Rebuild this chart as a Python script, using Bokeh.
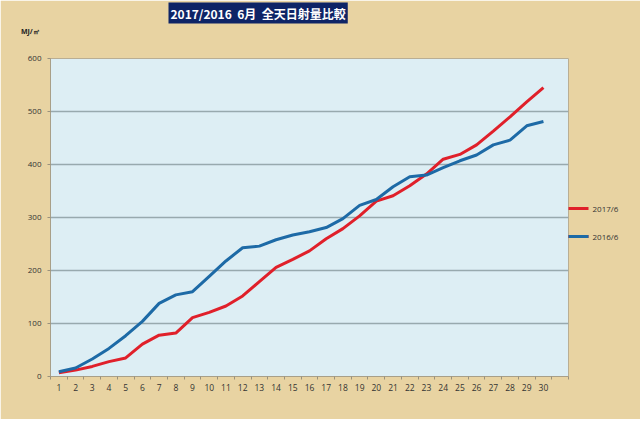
from bokeh.plotting import figure
from bokeh.models import FixedTicker, LinearAxis, Range1d, Title
from bokeh.embed import file_html
from bokeh.resources import INLINE

days = list(range(1, 31))
day_labels = [str(d) for d in days]
y_ticks = [0, 100, 200, 300, 400, 500, 600]
series_2017 = [7, 12, 19, 28, 35, 61, 78, 82, 111, 121, 133, 152, 179, 206, 221, 237, 260,
               279, 303, 331, 341, 360, 382, 410, 419, 437, 463, 490, 518, 545]
series_2016 = [9, 16, 33, 53, 77, 104, 138, 154, 160, 189, 218, 243, 246, 258, 267, 273, 281,
               298, 323, 334, 358, 377, 380, 394, 407, 418, 437, 446, 473, 481]
name_2017 = "2017/6"
name_2016 = "2016/6"
title_text = "2017/2016  6月  全天日射量比較"
unit_text = "MJ/㎡"

C17 = "#e0202a"
C16 = "#1d6aa6"
BG = "#e8d3a2"
p = figure(frame_width=518, frame_height=318, output_backend="svg", toolbar_location=None,
           x_range=Range1d(0.5, 31.5), y_range=Range1d(0, 600),
           min_border_left=50, min_border_right=72, min_border_top=0, min_border_bottom=43)
p.border_fill_color = BG
p.background_fill_color = "#ddeef4"
p.outline_line_color = "#b9ae94"

p.xgrid.grid_line_color = None
p.ygrid.grid_line_color = "#98a9ae"
p.ygrid.grid_line_width = 1.5

xax = p.xaxis[0]
yax = p.yaxis[0]
xax.ticker = FixedTicker(ticks=days, minor_ticks=[d + 0.5 for d in range(0, 32)])
xax.major_label_overrides = {d: l for d, l in zip(days, day_labels)}
xax.major_tick_line_color = None
xax.major_tick_out = 3
xax.major_tick_in = 0
xax.minor_tick_out = 3
xax.minor_tick_in = 0
xax.minor_tick_line_color = "#9a917c"
xax.axis_line_color = "#a89f88"
xax.major_label_text_font_size = "8.5px"
xax.major_label_text_color = "#333333"
xax.major_label_text_font = "Open Sans"
xax.major_label_standoff = 4

yax.ticker = FixedTicker(ticks=y_ticks)
yax.minor_tick_line_color = None
yax.major_tick_out = 3
yax.major_tick_in = 0
yax.major_tick_line_color = "#9a917c"
yax.axis_line_color = "#a89f88"
yax.major_label_text_font_size = "8px"
yax.major_label_text_color = "#333333"
yax.major_label_text_font = "Open Sans"
yax.major_label_standoff = 6

r17 = p.line(days, series_2017, line_color=C17, line_width=3)
r16 = p.line(days, series_2016, line_color=C16, line_width=3)

# legend on the right, built as an axis: key lines are the tick marks, names the tick labels
p.extra_y_ranges = {"legend": Range1d(0, 318)}
pos17, pos16 = 168, 140
leg_axis = LinearAxis(y_range_name="legend",
                      ticker=FixedTicker(ticks=[pos17, pos16], minor_ticks=[pos16]),
                      major_label_overrides={pos17: name_2017, pos16: name_2016},
                      axis_line_color=None,
                      major_tick_line_color=C17, major_tick_line_width=3,
                      major_tick_out=20, major_tick_in=0,
                      minor_tick_line_color=C16, minor_tick_line_width=3,
                      minor_tick_out=20, minor_tick_in=0,
                      major_label_standoff=4, major_label_text_font_size="8px",
                      major_label_text_color="#333333", major_label_text_font="Open Sans")
p.add_layout(leg_axis, "right")

# unit label above the y axis, built as an axis tick label
p.extra_x_ranges = {"unit": Range1d(-0.5, 100)}
unit_axis = LinearAxis(x_range_name="unit", ticker=FixedTicker(ticks=[0]),
                       major_label_overrides={0: unit_text + "\u00a0" * 25},
                       axis_line_color=None, major_tick_line_color=None,
                       major_tick_out=0, major_tick_in=0, minor_tick_line_color=None,
                       major_label_standoff=23, major_label_text_font_size="7px",
                       major_label_text_font_style="bold", major_label_text_color="#222222",
                       major_label_text_font="Open Sans")
p.add_layout(unit_axis, "above")

p.add_layout(Title(text=title_text.replace("  ", "\u00a0 "), align="left", offset=118, standoff=0,
                   text_color="white", text_font="Noto Sans CJK JP", text_font_style="bold",
                   text_font_size="12px", background_fill_color="#0e2466", padding=2), "above")

open("out.html", "w").write(file_html(p, INLINE))
